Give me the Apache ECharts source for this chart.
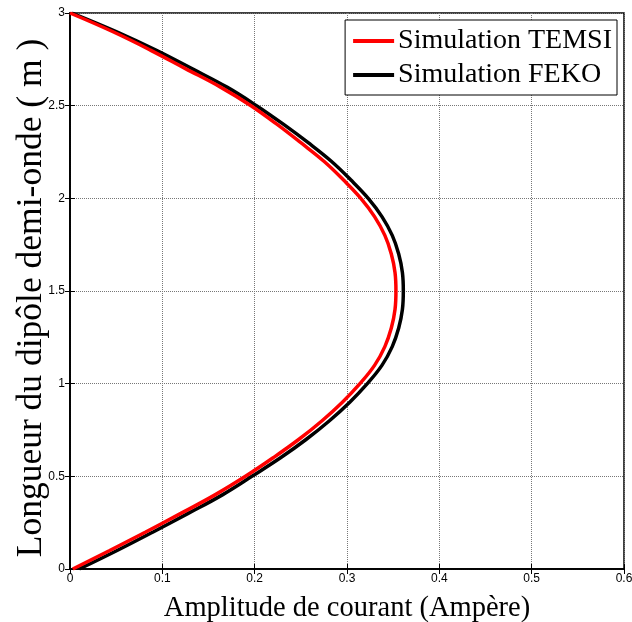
<!DOCTYPE html>
<html>
<head>
<meta charset="utf-8">
<script src="https://cdn.jsdelivr.net/npm/echarts@6/dist/echarts.min.js"></script>
<style>
html,body{margin:0;padding:0;background:#fff;}
#c{width:632px;height:622px;}
</style>
</head>
<body>
<div id="c"></div>
<script>
// Position along the dipole (m)
const lengths = [0,0.1,0.2,0.3,0.4,0.5,0.6,0.7,0.8,0.9,1.0,1.1,1.2,1.3,1.4,1.5,1.6,1.7,1.8,1.9,2.0,2.1,2.2,2.3,2.4,2.5,2.6,2.7,2.8,2.9,3.0];
// Current amplitude (A) - TEMSI simulation
const temsiCurrent = [0.003,0.043,0.082,0.120,0.157,0.190,0.220,0.248,0.273,0.295,0.314,0.330,0.341,0.348,0.352,0.353,0.352,0.348,0.341,0.330,0.315,0.296,0.275,0.250,0.224,0.196,0.163,0.125,0.087,0.046,0.000];
// Current amplitude (A) - FEKO simulation
const fekoCurrent = [0.010,0.051,0.090,0.128,0.165,0.197,0.228,0.256,0.281,0.303,0.322,0.338,0.349,0.356,0.360,0.361,0.360,0.356,0.349,0.338,0.323,0.304,0.283,0.258,0.231,0.202,0.170,0.132,0.093,0.050,0.002];

const seriesNames = ['Simulation TEMSI','Simulation FEKO'];
const xTitle = 'Amplitude de courant (Ampère)';
const yTitle = 'Longueur du dipôle demi-onde ( m )';

const toPairs = arr => arr.map((v,i)=>[v, lengths[i]]);

const chart = echarts.init(document.getElementById('c'));
const tickFont = {fontFamily:'Liberation Sans, Arial', fontSize:12, color:'#000'};
const serif = 'Liberation Serif, Times New Roman';
chart.setOption({
  animation:false,
  backgroundColor:'#fff',
  grid:{left:70,right:8,top:13,bottom:53,show:true,borderColor:'#000',borderWidth:1.5,backgroundColor:'#fff',
        containLabel:false, outerBoundsMode:'none'},
  legend:{
    right:15, top:20, orient:'vertical',
    backgroundColor:'#fff', borderColor:'#000', borderWidth:1,
    padding:[7,5,6,8], itemGap:6,
    itemWidth:41, itemHeight:4,
    icon:'rect',
    textStyle:{fontFamily:serif, fontSize:28, color:'#000', padding:[0,0,0,-1]},
    data:seriesNames
  },
  xAxis:[{
    type:'value', min:0, max:0.6, interval:0.1,
    name:xTitle, nameLocation:'middle', nameGap:25, nameMoveOverlap:false,
    nameTextStyle:{fontFamily:serif, fontSize:28.5, color:'#000'},
    axisLine:{lineStyle:{color:'#000',width:1.5}},
    axisTick:{inside:true,length:5,lineStyle:{color:'#000'}},
    axisLabel:Object.assign({margin:4},tickFont),
    splitLine:{show:true,lineStyle:{color:'#777',type:'dotted',width:1}}
  },{
    type:'value', min:0, max:0.6, interval:0.1, position:'top',
    axisLine:{show:true,lineStyle:{color:'#000',width:1.5}},
    axisTick:{inside:true,length:5,lineStyle:{color:'#000'}},
    axisLabel:{show:false}, splitLine:{show:false}
  }],
  yAxis:[{
    type:'value', min:0, max:3, interval:0.5,
    name:yTitle, nameLocation:'middle', nameGap:20, nameMoveOverlap:false,
    nameTextStyle:{fontFamily:serif, fontSize:35.5, color:'#000', padding:[0,14,0,0]},
    axisLine:{show:true,lineStyle:{color:'#000',width:1.5}},
    axisTick:{show:true,inside:true,length:5,lineStyle:{color:'#000'}},
    axisLabel:Object.assign({margin:5},tickFont),
    splitLine:{show:true,lineStyle:{color:'#777',type:'dotted',width:1}}
  },{
    type:'value', min:0, max:3, interval:0.5, position:'right',
    axisLine:{show:true,lineStyle:{color:'#000',width:1.5}},
    axisTick:{show:true,inside:true,length:5,lineStyle:{color:'#000'}},
    axisLabel:{show:false}, splitLine:{show:false}
  }],
  series:[
    {name:seriesNames[0], type:'line', data:toPairs(temsiCurrent), symbol:'none', smooth:0.4,
     lineStyle:{color:'#ff0000',width:3.5}, itemStyle:{color:'#ff0000'}, z:3},
    {name:seriesNames[1], type:'line', data:toPairs(fekoCurrent), symbol:'none', smooth:0.4,
     lineStyle:{color:'#000',width:3.5}, itemStyle:{color:'#000'}, z:2}
  ]
});
</script>
</body>
</html>
